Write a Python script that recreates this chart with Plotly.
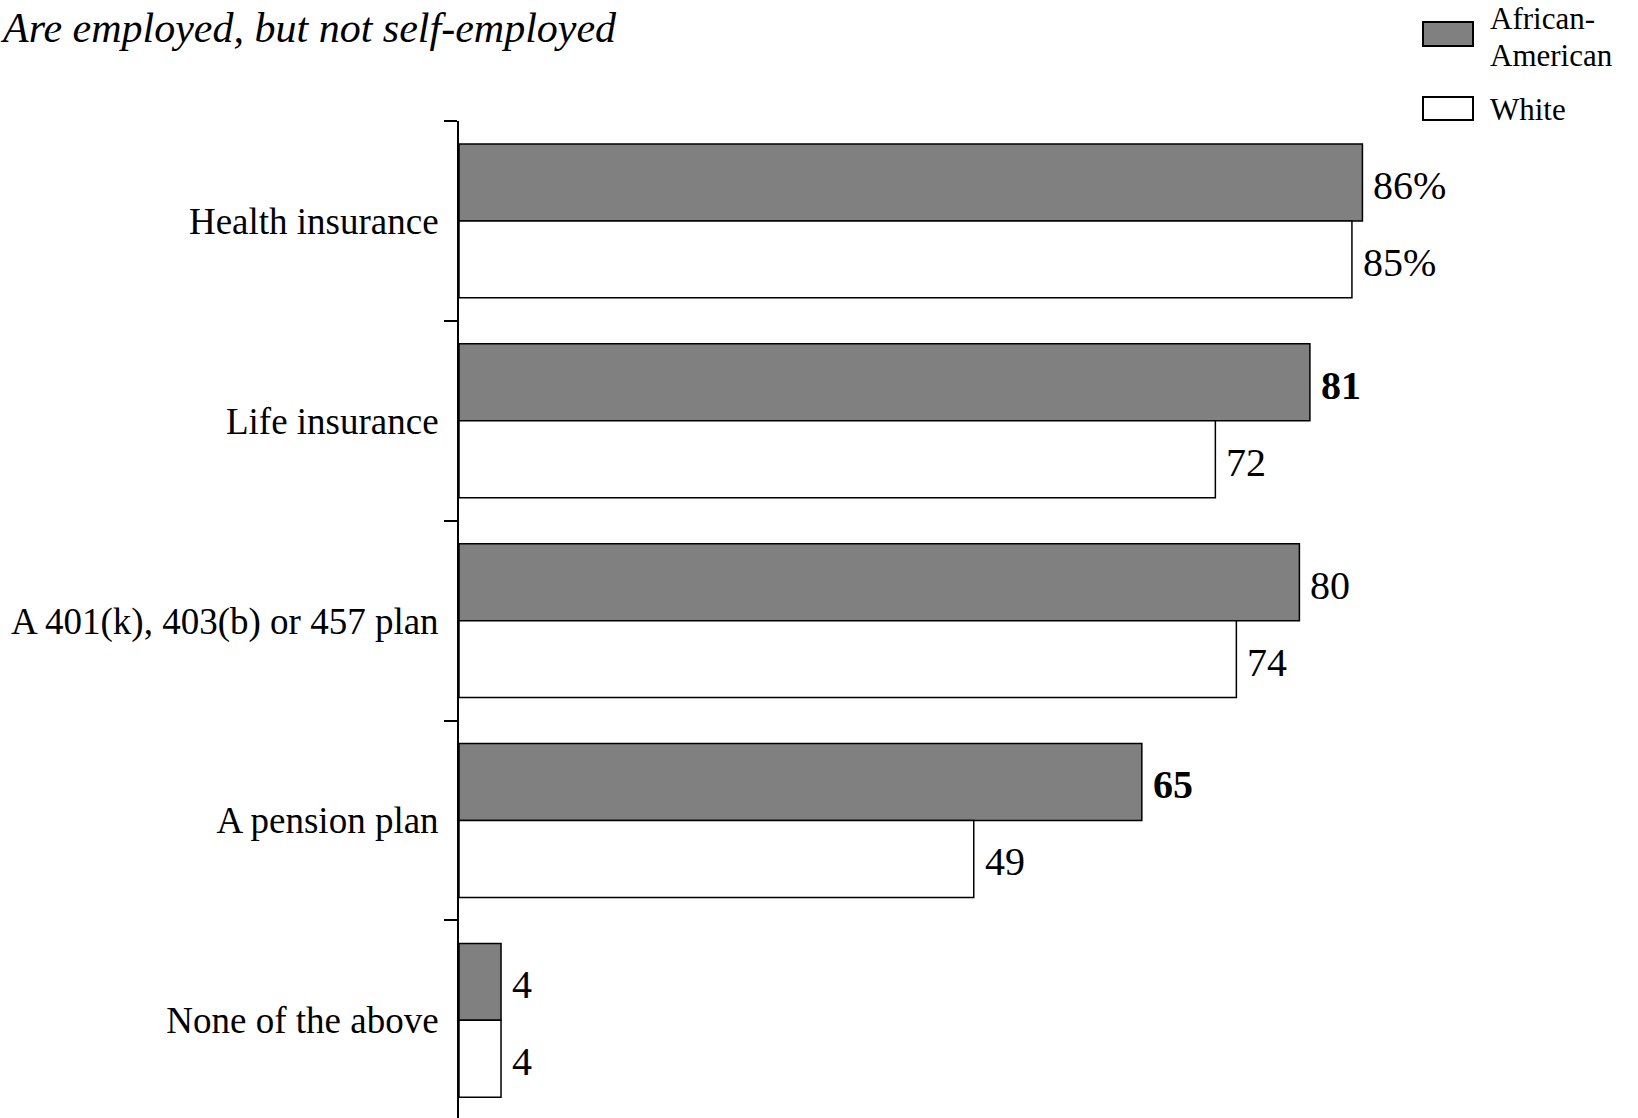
import plotly.graph_objects as go

# ---- data ----
categories = ["Health insurance", "Life insurance", "A 401(k), 403(b) or 457 plan",
              "A pension plan", "None of the above"]
african_american = [86, 81, 80, 65, 4]
white = [85, 72, 74, 49, 4]
aa_labels = ["86%", "81", "80", "65", "4"]
white_labels = ["85%", "72", "74", "49", "4"]
aa_bold = [False, True, False, True, False]
white_bold = [False, False, False, False, False]
series_names = ["African-American", "White"]
title_text = "Are employed, but not self-employed"

# ---- layout constants (pixels) ----
W, H = 1638, 1118
ML, MT, MR, MB = 459, 121, 23, 0
PW = W - ML - MR
PH = H - MT - MB
PX_PER_UNIT = 10.505
CAT_PX = 199.85
FONT = "Liberation Serif, Times New Roman, serif"
GRAY = "#808080"

xmax = PW / PX_PER_UNIT
ymax = -0.5 + PH / CAT_PX


def px_to_paper(xp, yp):
    return (xp - ML) / PW, 1 - (yp - MT) / PH


fig = go.Figure()
fig.add_trace(go.Bar(y=categories, x=african_american, orientation="h", name=series_names[0],
                     marker=dict(color=GRAY, line=dict(color="black", width=1.5))))
fig.add_trace(go.Bar(y=categories, x=white, orientation="h", name=series_names[1],
                     marker=dict(color="white", line=dict(color="black", width=1.5))))

bar_half = CAT_PX * (1 - 0.23) / 4
annotations = []
for vals, labels, bolds, sign in [(african_american, aa_labels, aa_bold, 1),
                                  (white, white_labels, white_bold, -1)]:
    for cat, v, lab, b in zip(categories, vals, labels, bolds):
        annotations.append(dict(
            x=v, y=cat, xref="x", yref="y", text=f"<b>{lab}</b>" if b else lab,
            showarrow=False, xanchor="left", yanchor="middle",
            xshift=9, yshift=sign * bar_half - 3,
            font=dict(family=FONT, size=40, color="black")))

# title
tx, ty = px_to_paper(-2, 42 - 13.5)
annotations.append(dict(x=tx, y=ty, xref="paper", yref="paper", text=f"<i>{title_text}</i>",
                        showarrow=False, xanchor="left", yanchor="middle",
                        font=dict(family=FONT, size=42, color="black")))

# legend (manual)
legend_lines = [("African-", 28), ("American", 65), ("White", 119)]
for txt, base in legend_lines:
    lx, ly = px_to_paper(1488, base - 10)
    annotations.append(dict(x=lx, y=ly, xref="paper", yref="paper", text=txt,
                            showarrow=False, xanchor="left", yanchor="middle",
                            font=dict(family=FONT, size=31, color="black")))

shapes = []
for (y0p, y1p), col in [((22, 46), GRAY), ((97, 120), "white")]:
    x0, y0 = px_to_paper(1423, y0p)
    x1, y1 = px_to_paper(1473, y1p)
    shapes.append(dict(type="rect", xref="paper", yref="paper", x0=x0, x1=x1, y0=y0, y1=y1,
                       fillcolor=col, line=dict(color="black", width=2)))

fig.update_layout(
    width=W, height=H,
    margin=dict(l=ML, r=MR, t=MT, b=MB, pad=0),
    paper_bgcolor="white", plot_bgcolor="white",
    barmode="group", bargap=0.23, bargroupgap=0,
    showlegend=False,
    annotations=annotations, shapes=shapes,
    font=dict(family=FONT, color="black"),
    xaxis=dict(range=[0, xmax], visible=False, fixedrange=True),
    yaxis=dict(range=[ymax, -0.5], type="category", showline=True, linecolor="black",
               linewidth=2, ticks="outside", ticklen=13, tickwidth=2, tickcolor="black",
               tickson="boundaries", showgrid=False, zeroline=False,
               tickfont=dict(family=FONT, size=37, color="black"),
               ticklabelstandoff=11),
)

fig.write_html("out.html", config={"displayModeBar": False},
               post_script="document.body.style.margin='0';document.body.style.overflow='hidden';")
